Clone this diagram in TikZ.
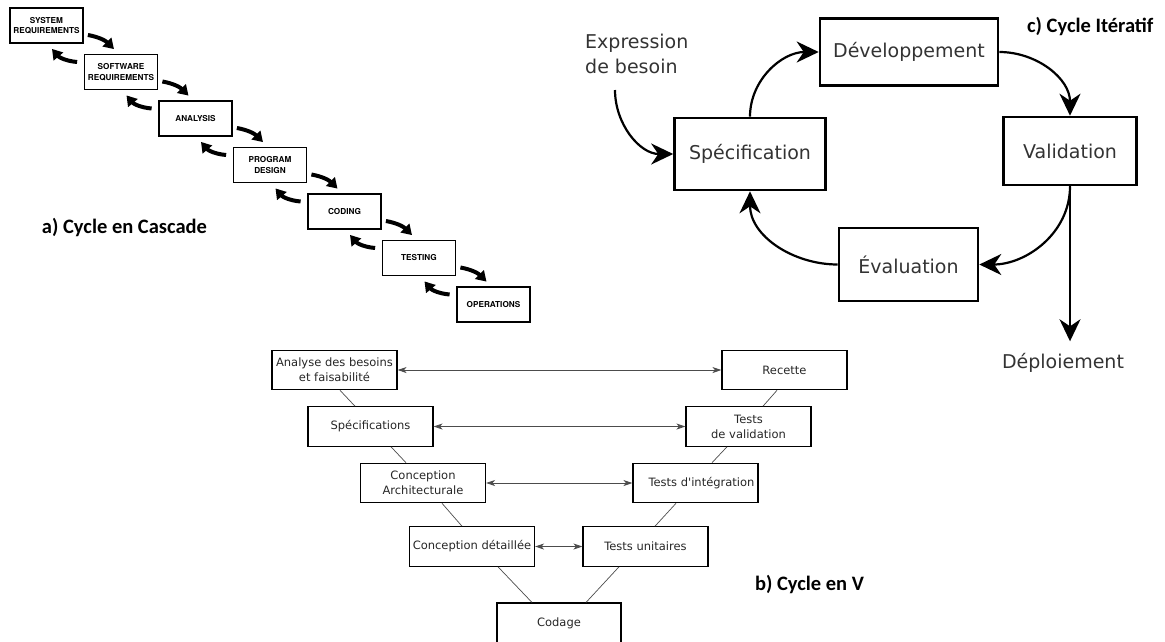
\documentclass[tikz,border=0pt]{standalone}
\usepackage{fontspec}
\setmainfont{DejaVu Sans}
\newfontfamily\cascfont{TeX Gyre Heros}
\newfontfamily\labelfont{Carlito}
\usetikzlibrary{arrows.meta}

\begin{document}
\begin{tikzpicture}[x=1pt,y=1pt,
    casc/.style={draw,line width=1.8pt,minimum width=73,minimum height=35,inner sep=1pt,align=center,
      font=\cascfont\bfseries\fontsize{8.2}{10.5}\selectfont},
    cascarr/.style={line width=4pt,-{Triangle[length=10pt,width=12pt]}},
    iter/.style={draw,line width=2.6pt,inner sep=0pt,font=\fontsize{19}{25}\selectfont,text=black!80},
    iterarr/.style={line width=2.2pt,-{Stealth[length=22pt,width=21pt,inset=7pt]}},
    vbox/.style={draw,line width=1.1pt,minimum width=125,minimum height=39.5,inner sep=1pt,align=center,
      font=\fontsize{11.5}{15}\selectfont,text=black!85},
    varr/.style={line width=0.8pt,black!70,{Stealth[length=9pt,width=6pt,inset=2.5pt]}-{Stealth[length=9pt,width=6pt,inset=2.5pt]}},
    vline/.style={line width=0.7pt,black!70},
    cyclelabel/.style={font=\labelfont\bfseries\fontsize{20.5}{24}\selectfont,anchor=base}]
  \useasboundingbox (0,0) rectangle (1165,-641);

  % a) waterfall
  \foreach \t [count=\i from 0] in {{SYSTEM\\REQUIREMENTS},{SOFTWARE\\REQUIREMENTS},ANALYSIS,{PROGRAM\\DESIGN},CODING,TESTING,OPERATIONS}
    \node[casc] (c\i) at ({46.5+74.5*\i},{-25.5-46.5*\i}) {\t};
  \foreach \i [evaluate=\i as \j using int(\i+1)] in {0,...,5} {
    \draw[cascarr] ([shift={(4,-9.5)}]c\i.east) to[out=-10,in=135] ([shift={(-7,4.5)}]c\j.north);
    \draw[cascarr] ([shift={(-6.5,10)}]c\j.west) to[out=175,in=-50] ([shift={(5.5,-5)}]c\i.south);
  }
  \node[cyclelabel] (la) at (124.5,-233) {a) Cycle en Cascade};

  % c) iterative
  \node[iter,minimum width=178,minimum height=67] (dev) at (909,-52) {Développement};
  \node[iter,minimum width=151,minimum height=72] (spec) at (750,-154) {Spécification};
  \node[iter,minimum width=133,minimum height=68] (valid) at (1070,-151) {Validation};
  \node[iter,minimum width=139,minimum height=73] (eval) at (908.5,-264.5) {Évaluation};
  \node[anchor=north west,inner sep=0pt,align=left,font=\fontsize{19}{25}\selectfont,text=black!80] (expr) at (585,-33.5) {Expression\\de besoin};
  \node[anchor=base,font=\fontsize{19}{25}\selectfont,text=black!80] (deploy) at (1063,-368) {Déploiement};
  \coordinate (need) at (615,-90);
  \draw[iterarr] (need) to[out=-90,in=180] (spec.west);
  \draw[iterarr] (spec.north) to[out=90,in=180] (dev.west);
  \draw[iterarr] (dev.east) to[out=0,in=90] (valid.north);
  \draw[iterarr] (valid.south) to[out=-90,in=0] (eval.east);
  \draw[iterarr] (eval.west) to[out=180,in=-90] (spec.south);
  \draw[iterarr,shorten >=8pt] (valid.south) -- (valid.south |- deploy.north);
  \node[cyclelabel,anchor=base east] (lc) at (1157,-32) {c) Cycle Itératif};

  % b) V cycle
  \node[vbox] (an) at (334.5,-370) {Analyse des besoins\\et faisabilité};
  \node[vbox] (sp) at (370.5,-426.5) {Spécifications};
  \node[vbox] (ca) at (423,-483) {Conception\\Architecturale};
  \node[vbox] (cd) at (472,-546.5) {Conception détaillée};
  \node[vbox,minimum width=124,minimum height=40] (co) at (559,-623) {Codage};
  \node[vbox] (tu) at (645.5,-546.5) {Tests unitaires};
  \node[vbox] (ti) at (695.5,-483) {\hspace*{12pt}Tests d\textquotesingle intégration};
  \node[vbox] (tv) at (748.5,-426.5) {Tests\\de validation};
  \node[vbox] (re) at (784.5,-370) {Recette};
  \draw[varr] (an) -- (re);
  \draw[varr] (sp) -- (tv);
  \draw[varr] (ca) -- (ti);
  \draw[varr] (cd) -- (tu);
  \draw[vline] ([xshift=5.5pt]an.south) -- ([xshift=-15.5pt]sp.north);
  \draw[vline] ([xshift=20.5pt]sp.south) -- ([xshift=-17pt]ca.north);
  \draw[vline] ([xshift=19pt]ca.south) -- ([xshift=-10pt]cd.north);
  \draw[vline] ([xshift=26pt]cd.south) -- ([xshift=-27pt]co.north);
  \draw[vline] ([xshift=-26.5pt]tu.south) -- ([xshift=27pt]co.north);
  \draw[vline] ([xshift=-19.5pt]ti.south) -- ([xshift=9.5pt]tu.north);
  \draw[vline] ([xshift=-21.5pt]tv.south) -- ([xshift=16.5pt]ti.north);
  \draw[vline] ([xshift=-7.5pt]re.south) -- ([xshift=14.5pt]tv.north);
  \node[cyclelabel] (lb) at (809.5,-590) {b) Cycle en V};
\end{tikzpicture}
\end{document}
